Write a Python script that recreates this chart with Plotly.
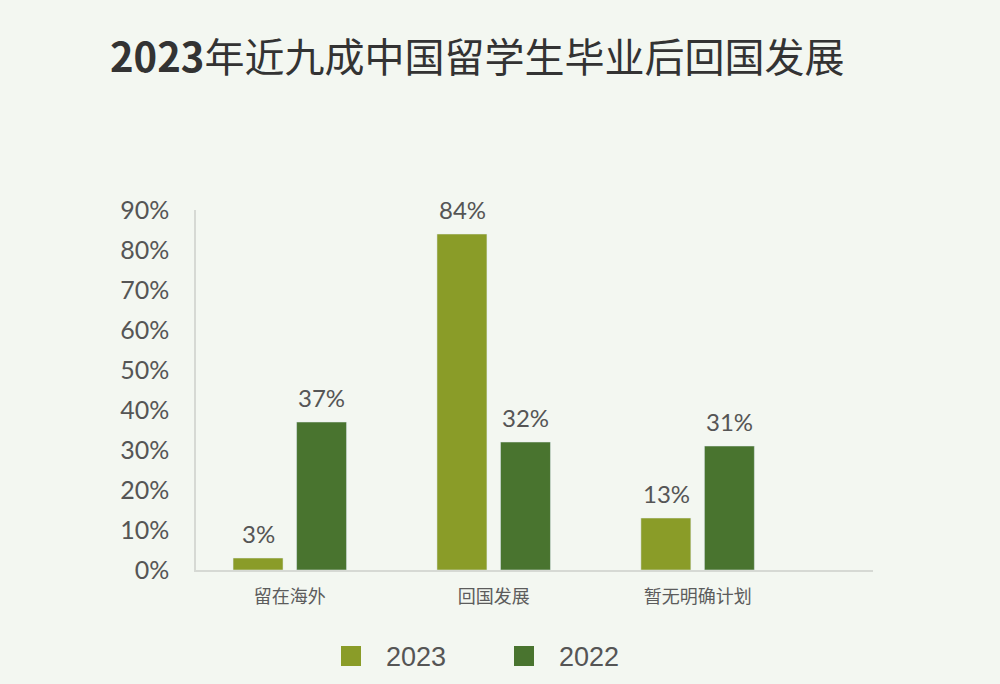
import plotly.graph_objects as go

categories = ["留在海外", "回国发展", "暂无明确计划"]
values_2023 = [3, 84, 13]
values_2022 = [37, 32, 31]
y_ticks = [0, 10, 20, 30, 40, 50, 60, 70, 80, 90]

c2023 = "#8a9c28"
c2022 = "#49742f"
bg = "#f3f7f1"
grey = "#555555"
num_font = "Lato, 'Noto Sans CJK SC', sans-serif"
cjk_font = "'Noto Sans CJK SC', sans-serif"

fig = go.Figure()
fig.add_trace(go.Bar(x=categories, y=values_2023, name="2023", marker_color=c2023,
                     showlegend=False))
fig.add_trace(go.Bar(x=categories, y=values_2022, name="2022", marker_color=c2022,
                     showlegend=False))
# legend entries
for name, col in [("2023", c2023), ("2022", c2022)]:
    fig.add_trace(go.Scatter(x=[None], y=[None], mode="markers", name="\u00a0\u00a0" + name,
                             marker=dict(symbol="square", size=16, color=col,
                                         line=dict(color=col, width=4))))

for vals, shift in [(values_2023, -31.5), (values_2022, 31.5)]:
    for c, v in zip(categories, vals):
        fig.add_annotation(x=c, y=v, text=f"{v}%", showarrow=False,
                           xshift=shift, yshift=8, yanchor="bottom",
                           font=dict(family=num_font, size=24, color=grey))

fig.update_layout(
    width=1000, height=684,
    paper_bgcolor=bg, plot_bgcolor=bg,
    margin=dict(l=196, r=127, t=210, b=114, autoexpand=False),
    barmode="group", bargap=0.377, bargroupgap=0.213,
    title=dict(text="<b>2023</b>年近九成中国留学生毕业后回国发展",
               x=0.11, xanchor="left", y=1 - 58 / 684, yanchor="middle",
               font=dict(family=cjk_font, size=40, color="#333333")),
    xaxis=dict(range=[-0.46, 2.86], showline=True, linecolor="#d6d9d4", linewidth=1.5,
               showgrid=False, ticks="", tickfont=dict(family=cjk_font, size=18, color="#5c5c5c"),
               ticklabelstandoff=10),
    yaxis=dict(range=[0, 90], tickvals=y_ticks, ticktext=[f"{t}%" for t in y_ticks],
               showline=True, linecolor="#d6d9d4", linewidth=1.5, showgrid=False,
               zeroline=False, ticks="", ticklabelstandoff=20,
               tickfont=dict(family=num_font, size=25, color=grey)),
    legend=dict(orientation="h", x=(331 - 196) / 677, xanchor="left", y=-0.24, yanchor="middle",
                font=dict(family="'Liberation Sans', Arial, sans-serif", size=27, color=grey),
                bgcolor="rgba(0,0,0,0)", entrywidth=128),
)

fig.write_html("out.html")
